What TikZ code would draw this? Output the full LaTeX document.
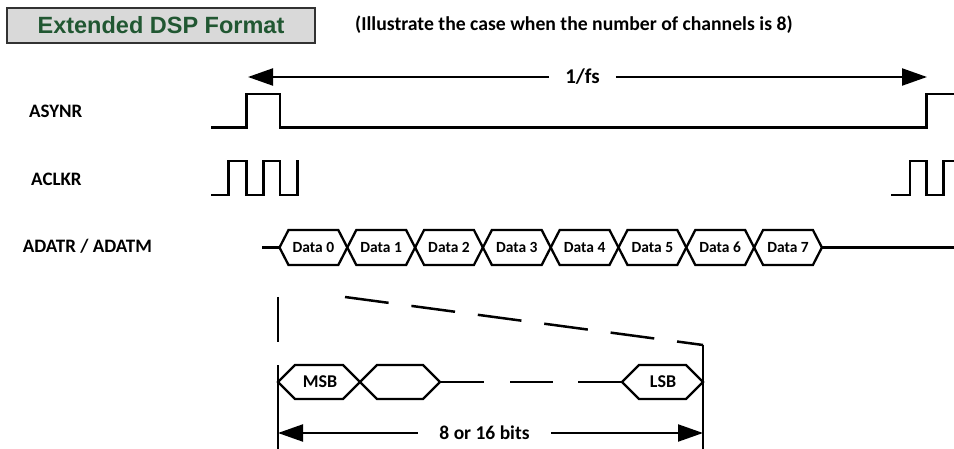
\documentclass[tikz,border=0pt]{standalone}
\usepackage{fontspec}
\setmainfont{Carlito}
\newfontfamily\arialf{Liberation Sans}
\usetikzlibrary{arrows.meta}
\definecolor{titlegreen}{RGB}{33,87,50}
\definecolor{boxgray}{RGB}{217,217,217}
\definecolor{boxedge}{RGB}{50,50,50}
\begin{document}
\begin{tikzpicture}[x=1pt,y=-1pt,
  sig/.style={line width=2.5pt, line join=miter, line cap=rect},
  hexa/.style={line width=2.3pt, line join=miter},
  arr/.style={line width=2.2pt, -{Triangle[length=25pt,width=17pt]}},
  siglbl/.style={inner sep=0pt, anchor=west, font=\fontsize{19}{22}\selectfont\bfseries},
  datalbl/.style={inner sep=0pt, font=\fontsize{15.5}{18}\selectfont\bfseries},
  bitlbl/.style={inner sep=0pt, font=\fontsize{18}{21}\selectfont\bfseries},
  titlebox/.style={draw=boxedge, fill=boxgray, line width=1.5pt, minimum width=308pt, minimum height=35pt, inner sep=0pt, text=titlegreen, font=\arialf\fontsize{23.5}{26}\selectfont\bfseries}
]
\useasboundingbox (0,0) rectangle (954,449);

% title and subtitle
\node[titlebox] (title) at (161,25.5) {Extended DSP Format};
\node[inner sep=0pt, anchor=west, font=\fontsize{19.7}{22}\selectfont\bfseries] (sub) at (355,25) {(Illustrate the case when the number of channels is 8)};

% 1/fs arrow
\node[inner ysep=0pt, inner xsep=16pt, font=\fontsize{21}{24}\selectfont\bfseries] (fs) at (582.5,77) {1/fs};
\coordinate (fsl) at (248,77);
\coordinate (fsr) at (927,77);
\draw[arr] (fs) -- (fsl);
\draw[arr] (fs) -- (fsr);

% signal labels
\node[siglbl] (asynr) at (29,111.7) {ASYNR};
\node[siglbl] (aclkr) at (31,179) {ACLKR};
\node[siglbl] (adatr) at (22.7,246.7) {ADATR / ADATM};

% ASYNR waveform
\draw[sig] (212,127.7) -- (246.7,127.7) -- (246.7,94) -- (280,94) -- (280,127.7) -- (926.7,127.7) -- (926.7,94) -- (956,94);

% ACLKR waveform
\draw[sig] (212,195) -- (228.3,195) -- (228.3,161) -- (246.7,161) -- (246.7,195) -- (263.3,195) -- (263.3,161) -- (280,161) -- (280,195) -- (297.3,195) -- (297.3,161);
\draw[sig] (892.7,195) -- (910,195) -- (910,161) -- (926.7,161) -- (926.7,195) -- (943.3,195) -- (943.3,161) -- (956,161);

% ADATR / ADATM data cells
\coordinate (dstart) at (262,247.5);
\coordinate (dend) at (956,247.5);
\foreach \k in {0,...,7} {
  \pgfmathsetmacro\xa{279.5+67.8*\k}
  \pgfmathsetmacro\xb{\xa+67.8}
  \draw[hexa] (\xa,247.5) -- (\xa+9,230) -- (\xb-9,230) -- (\xb,247.5) -- (\xb-9,265) -- (\xa+9,265) -- cycle;
  \node[datalbl] (d\k) at ({(\xa+\xb)/2},247.5) {Data \k};
}
\coordinate (d0l) at (279.5,247.5);
\coordinate (d7r) at (821.9,247.5);
\draw[sig, line cap=butt] (dstart) -- (d0l);
\draw[sig, line cap=butt] (d7r) -- (dend);

% zoom-in lines
\coordinate (zl1) at (278,297);
\coordinate (zl2) at (278,342);
\coordinate (zl3) at (278,365);
\coordinate (zl4) at (278,450);
\coordinate (zr1) at (703,345);
\coordinate (zr2) at (703,450);
\coordinate (zd) at (345,297);
\draw[sig, line cap=butt] (zl1) -- (zl2);
\draw[sig, line cap=butt] (zl3) -- (zl4);
\draw[sig, line cap=butt] (zr1) -- (zr2);
\draw[sig, line cap=butt, dash pattern=on 44pt off 23pt] (zd) -- (zr1);

% bit cells
\draw[hexa] (278,382) -- (295,365) -- (343,365) -- (360,382) -- (343,399) -- (295,399) -- cycle;
\draw[hexa] (360,382) -- (377,365) -- (423,365) -- (440,382) -- (423,399) -- (377,399) -- cycle;
\draw[hexa] (622,382) -- (639,365) -- (686,365) -- (703,382) -- (686,399) -- (639,399) -- cycle;
\node[bitlbl] (msb) at (320,382) {MSB};
\node[bitlbl] (lsb) at (663,382) {LSB};
\coordinate (b1) at (440,382);
\coordinate (b2) at (622,382);
\draw[sig, line cap=butt, dash pattern=on 44pt off 26pt on 43pt off 25pt] (b1) -- (b2);

% 8 or 16 bits arrow
\node[inner ysep=0pt, inner xsep=21.5pt, font=\fontsize{19.5}{22}\selectfont\bfseries] (bits) at (484.5,433) {8 or 16 bits};
\coordinate (bl) at (278,433);
\coordinate (br) at (703,433);
\draw[arr] (bits) -- (bl);
\draw[arr] (bits) -- (br);
\end{tikzpicture}
\end{document}
